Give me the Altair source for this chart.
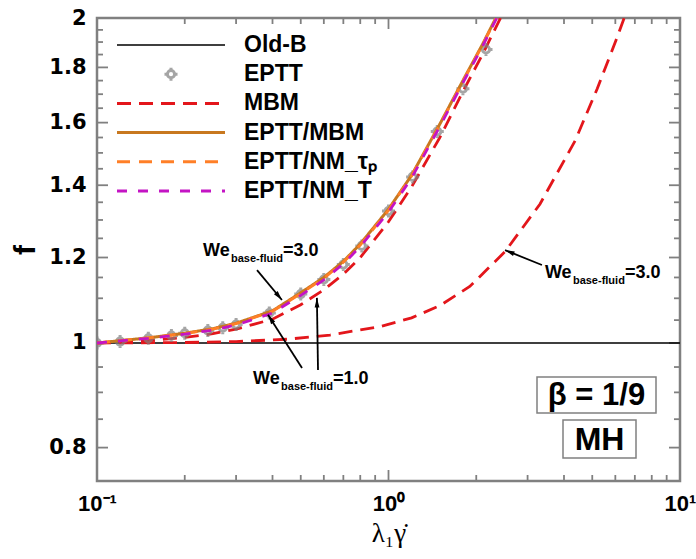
import math
import altair as alt
import pandas as pd

# ---------------- data ----------------
series_names = ["Old-B", "EPTT", "MBM", "EPTT/MBM", "EPTT/NM_τₚ", "EPTT/NM_T"]
series_colors = ["#000000", "#808080", "#e3161b", "#c8781f", "#ff7f27", "#c414c4"]
series_dashes = [[1, 0], [1, 0], [14, 8], [1, 0], [13, 9], [10, 11]]

oldb_x = [0.1, 10.0]
oldb_y = [1.0, 1.0]

eptt_x = [0.1, 0.12, 0.15, 0.18, 0.2, 0.24, 0.27, 0.3, 0.39, 0.5, 0.6, 0.7, 0.81, 1.0, 1.21, 1.47, 1.8, 2.16]
eptt_y = [1.0, 1.003, 1.01, 1.016, 1.021, 1.027, 1.033, 1.04, 1.066, 1.11, 1.145, 1.182, 1.23, 1.325, 1.425, 1.57, 1.72, 1.87]

upper_x = [0.1, 0.15, 0.2, 0.25, 0.3, 0.4, 0.5, 0.6, 0.7, 0.8, 1.0, 1.2, 1.5, 1.8, 2.1, 2.4, 2.7]
mbm_we1_y = [1.0, 1.005, 1.012, 1.02, 1.03, 1.052, 1.085, 1.12, 1.158, 1.2, 1.295, 1.395, 1.55, 1.71, 1.85, 1.99, 2.12]
eptt_mbm_y = [1.0, 1.011, 1.021, 1.031, 1.043, 1.071, 1.113, 1.15, 1.19, 1.235, 1.33, 1.43, 1.595, 1.75, 1.89, 2.03, 2.17]
nm_tp_y = [1.0, 1.011, 1.02, 1.03, 1.042, 1.07, 1.111, 1.148, 1.188, 1.232, 1.327, 1.428, 1.592, 1.747, 1.887, 2.027, 2.16]
nm_t_y = [1.0, 1.01, 1.019, 1.028, 1.039, 1.066, 1.107, 1.144, 1.184, 1.228, 1.322, 1.422, 1.587, 1.742, 1.882, 2.022, 2.15]

mbm_we3_x = [0.1, 0.2, 0.3, 0.45, 0.63, 0.94, 1.2, 1.5, 1.9, 2.51, 3.31, 4.37, 5.2, 6.0, 6.7]
mbm_we3_y = [1.0, 1.001, 1.003, 1.008, 1.017, 1.036, 1.055, 1.083, 1.128, 1.215, 1.345, 1.54, 1.72, 1.9, 2.06]

x_major = [0.1, 1.0, 10.0]
x_minor = [0.2, 0.3, 0.4, 0.5, 0.6, 0.7, 0.8, 0.9, 2, 3, 4, 5, 6, 7, 8, 9]
y_major = [0.8, 1.0, 1.2, 1.4, 1.6, 1.8, 2.0]
y_minor = [0.85, 0.9, 0.95, 1.05, 1.1, 1.15, 1.25, 1.3, 1.35, 1.45, 1.5, 1.55,
           1.65, 1.7, 1.75, 1.85, 1.9, 1.95]

# annotations (We_base-fluid labels and arrows)
ann_x = [0.231, 0.343, 3.44]
ann_y = [1.217, 0.926, 1.161]
ann_main = ["We", "We", "We"]
ann_sub = ["base-fluid", "base-fluid", "base-fluid"]
ann_val = ["=3.0", "=1.0", "=3.0"]

arrow_x_tail = [0.354, 0.505, 0.573, 3.36]
arrow_y_tail = [1.168, 0.948, 0.944, 1.181]
arrow_x_head = [0.431, 0.386, 0.568, 2.51]
arrow_y_head = [1.096, 1.062, 1.101, 1.219]

box_labels = ["β = 1/9", "MH"]
box_font_sizes = [31, 32]

# ---------------- layout ----------------
W, H = 583, 463
XD = [0.1, 10.0]
YD = [0.745, 2.0]
GRAY = "#808080"
FONT = "Liberation Sans"


def to_px(x, y):
    px = W * (math.log10(x) - math.log10(XD[0])) / (math.log10(XD[1]) - math.log10(XD[0]))
    py = H * (math.log10(YD[1]) - math.log10(y)) / (math.log10(YD[1]) - math.log10(YD[0]))
    return px, py


x_scale = alt.Scale(type="log", domain=XD, nice=False, zero=False)
y_scale = alt.Scale(type="log", domain=YD, nice=False, zero=False)

x_axis = alt.Axis(
    values=x_major, ticks=False, domain=False, grid=False,
    labelExpr="abs(datum.value-0.1)<1e-9 ? '10⁻¹' : abs(datum.value-1)<1e-9 ? '10⁰' : abs(datum.value-10)<1e-9 ? '10¹' : ''",
    labelFont=FONT, labelFontSize=22, labelFontWeight="bold", labelColor="black",
    labelPadding=12, labelOverlap=False, labelFlush=False,
    title="λ₁γ̇", titleFont="Liberation Serif", titleFontSize=27, titleFontWeight="normal",
    titleColor="black", titlePadding=6,
)
y_axis = alt.Axis(
    values=y_major, ticks=False, domain=False, grid=False,
    labelExpr="format(datum.value, '~g')",
    labelFont="DejaVu Sans", labelFontSize=21, labelFontWeight="bold", labelColor="black",
    labelPadding=11, labelOverlap=False, labelFlush=False,
    title="f", titleFont=FONT, titleFontSize=30, titleFontWeight="bold",
    titleColor="black", titlePadding=8,
)

X = alt.X("x:Q", scale=x_scale, axis=x_axis)
Y = alt.Y("y:Q", scale=y_scale, axis=y_axis)

color_scale = alt.Scale(domain=series_names, range=series_colors)
dash_scale = alt.Scale(domain=series_names, range=series_dashes)
COLOR = alt.Color("series:N", scale=color_scale, legend=None)
DASH = alt.StrokeDash("series:N", scale=dash_scale, legend=None)


def curve_df(series, curve, xs, ys):
    return pd.DataFrame({"series": series, "curve": curve, "x": xs, "y": ys})


def line_layer(df, width):
    return alt.Chart(df).mark_line(clip=True, strokeWidth=width).encode(
        x=X, y=Y, color=COLOR, strokeDash=DASH, detail="curve:N")


marker_path = ("M-0.55,0A0.55,0.55,0,1,1,0.55,0A0.55,0.55,0,1,1,-0.55,0Z"
               "M-1,0L-0.55,0M0.55,0L1,0M0,-1L0,-0.55M0,0.55L0,1")
arrow_path = "M0,0L0.4,1.6L-0.4,1.6Z"

layers = []

# tick marks (inward), drawn from tick value lists through the scales
for vals, size, side in [(x_major, 11, "b"), (x_minor, 6, "b"), (x_major, 11, "t"), (x_minor, 6, "t")]:
    df = pd.DataFrame({"x": vals})
    if side == "b":
        enc = dict(x=X, y=alt.value(H), y2=alt.value(H - size))
    else:
        enc = dict(x=X, y=alt.value(0), y2=alt.value(size))
    layers.append(alt.Chart(df).mark_rule(color=GRAY, strokeWidth=1.8).encode(**enc))
for vals, size, side in [(y_major, 11, "l"), (y_minor, 6, "l"), (y_major, 11, "r"), (y_minor, 6, "r")]:
    df = pd.DataFrame({"y": vals})
    if side == "l":
        enc = dict(y=Y, x=alt.value(0), x2=alt.value(size))
    else:
        enc = dict(y=Y, x=alt.value(W), x2=alt.value(W - size))
    layers.append(alt.Chart(df).mark_rule(color=GRAY, strokeWidth=1.8).encode(**enc))

# curves
layers.append(line_layer(curve_df("Old-B", "a", oldb_x, oldb_y), 1.6))
layers.append(line_layer(curve_df("MBM", "we3", mbm_we3_x, mbm_we3_y), 2.8))
layers.append(line_layer(curve_df("MBM", "we1", upper_x, mbm_we1_y), 2.8))
layers.append(
    alt.Chart(curve_df("EPTT", "a", eptt_x, eptt_y)).mark_point(
        shape=marker_path, size=170, filled=False, strokeWidth=3, clip=True
    ).encode(x=X, y=Y, color=COLOR)
)
layers.append(line_layer(curve_df("EPTT/MBM", "a", upper_x, eptt_mbm_y), 3.0))
layers.append(line_layer(curve_df("EPTT/NM_τₚ", "a", upper_x, nm_tp_y), 2.8))
layers.append(line_layer(curve_df("EPTT/NM_T", "a", upper_x, nm_t_y), 2.8))

# arrows
angles = []
for xt, yt, xh, yh in zip(arrow_x_tail, arrow_y_tail, arrow_x_head, arrow_y_head):
    pt = to_px(xt, yt)
    ph = to_px(xh, yh)
    dx, dy = ph[0] - pt[0], ph[1] - pt[1]
    angles.append((math.degrees(math.atan2(dx, -dy)) + 360) % 360)
arrow_df = pd.DataFrame({"x": arrow_x_tail, "y": arrow_y_tail, "x2": arrow_x_head,
                         "y2": arrow_y_head, "angle": angles})
layers.append(alt.Chart(arrow_df).mark_rule(color="black", strokeWidth=1.8).encode(
    x=X, y=Y, x2="x2:Q", y2="y2:Q"))
head_df = pd.DataFrame({"x": arrow_x_head, "y": arrow_y_head, "angle": angles})
layers.append(alt.Chart(head_df).mark_point(
    shape=arrow_path, size=144, filled=True, color="black", opacity=1, strokeWidth=0
).encode(x=X, y=Y, angle=alt.Angle("angle:Q", scale=None)))

# annotation texts
ann_df = pd.DataFrame({"x": ann_x, "y": ann_y, "main": ann_main, "sub": ann_sub, "val": ann_val})
txt = dict(align="left", baseline="middle", font=FONT, fontWeight="bold", color="black")
layers.append(alt.Chart(ann_df).mark_text(fontSize=18, **txt).encode(x=X, y=Y, text="main:N"))
layers.append(alt.Chart(ann_df).mark_text(fontSize=11, dx=28, dy=8, **txt).encode(x=X, y=Y, text="sub:N"))
layers.append(alt.Chart(ann_df).mark_text(fontSize=18, dx=80, **txt).encode(x=X, y=Y, text="val:N"))

# boxed labels
box_rects = [(440, 359, 559, 395), (466, 402, 539, 440)]
for label, fs, (bx1, by1, bx2, by2) in zip(box_labels, box_font_sizes, box_rects):
    one = pd.DataFrame({"label": [label]})
    layers.append(alt.Chart(one).mark_rect(fill="white", stroke=GRAY, strokeWidth=1.5).encode(
        x=alt.value(bx1), x2=alt.value(bx2), y=alt.value(by1), y2=alt.value(by2)))
    layers.append(alt.Chart(one).mark_text(
        font=FONT, fontWeight="bold", fontSize=fs, align="center", baseline="middle", color="black"
    ).encode(x=alt.value((bx1 + bx2) / 2), y=alt.value((by1 + by2) / 2 + 1), text="label:N"))

# legend (top-left, inside plot)
leg_y0, leg_dy = 27, 29.2
for i, name in enumerate(series_names):
    ly = leg_y0 + i * leg_dy
    one = pd.DataFrame({"series": [name]})
    if name == "EPTT":
        layers.append(alt.Chart(one).mark_point(
            shape=marker_path, size=170, filled=False, strokeWidth=3
        ).encode(x=alt.value(74), y=alt.value(ly), color=COLOR))
    else:
        layers.append(alt.Chart(one).mark_rule(strokeWidth=1.6 if name == "Old-B" else 3).encode(
            x=alt.value(20), x2=alt.value(128), y=alt.value(ly), color=COLOR, strokeDash=DASH))
    layers.append(alt.Chart(one).mark_text(
        font=FONT, fontWeight="bold", fontSize=23, align="left", baseline="middle", color="black"
    ).encode(x=alt.value(147), y=alt.value(ly), text="series:N"))

chart = alt.layer(*layers).properties(
    width=W, height=H,
    padding={"left": 97, "top": 18, "right": 16, "bottom": 78},
    autosize=alt.AutoSizeParams(type="none"),
    background="white",
).configure_view(stroke=GRAY, strokeWidth=2.5)

chart.save("out.html", embed_options={"renderer": "svg", "actions": False})
